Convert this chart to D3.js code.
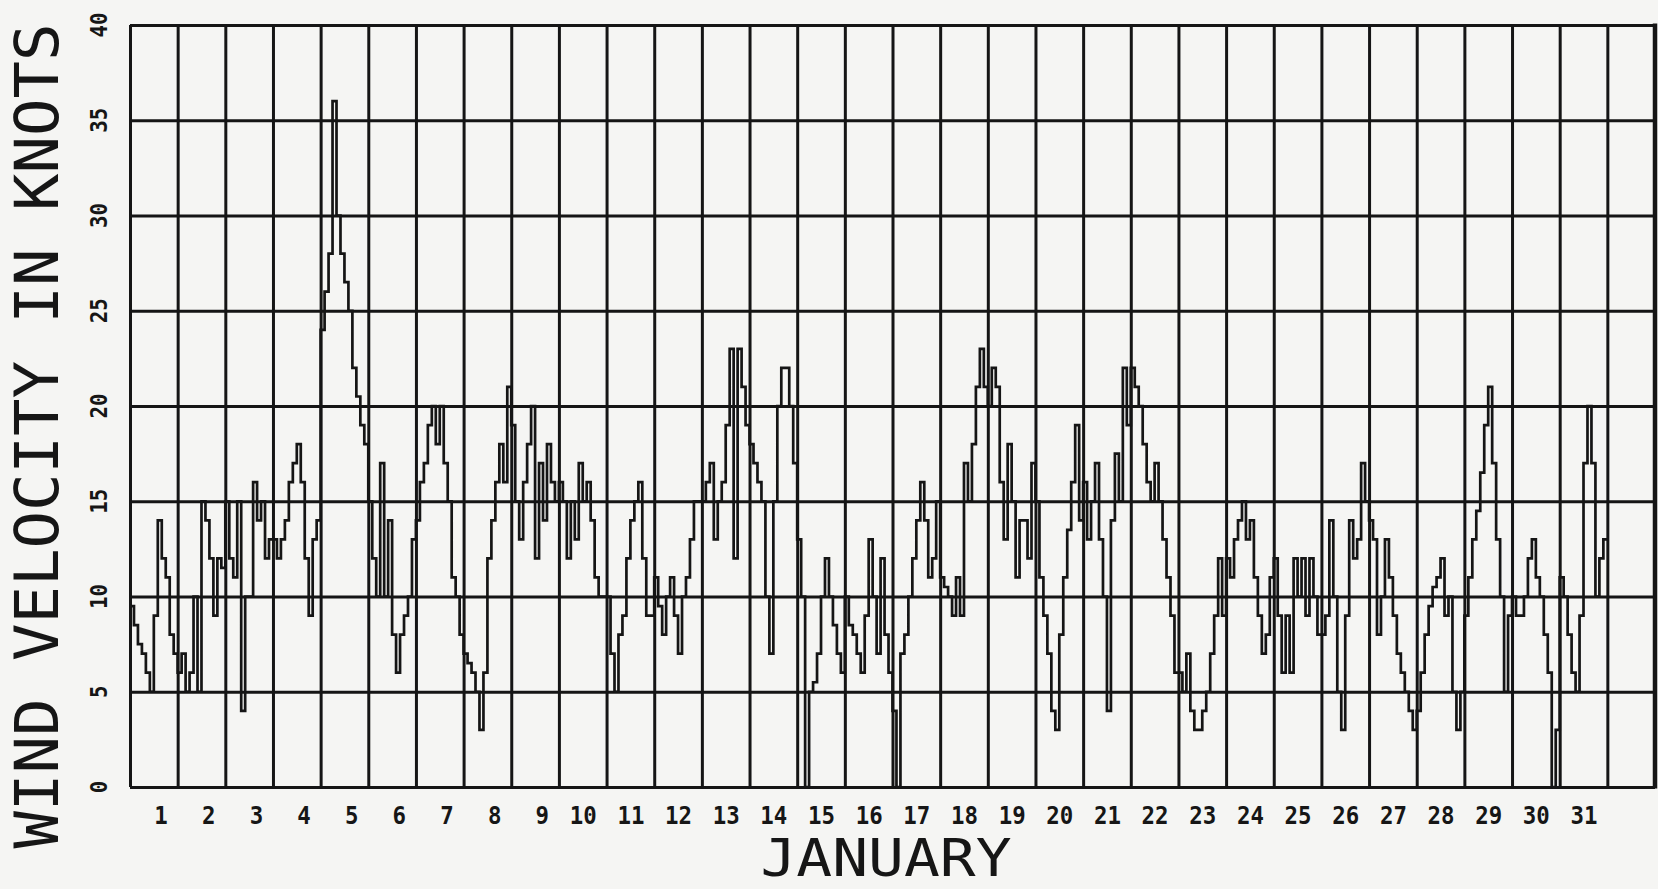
<!DOCTYPE html>
<html>
<head>
<meta charset="utf-8">
<script src="https://cdn.jsdelivr.net/npm/d3@7/dist/d3.min.js"></script>
<style>
    body { margin: 0; background: #f5f5f3; }
    svg { display: block; }
    text { font-family: "DejaVu Sans Mono", monospace; fill: #161616; }
</style>
</head>
<body>
<div id="chart"></div>
<script>
// Wind velocity in knots, every 2 hours (12 per day)
const week1 = [
    [9.5, 8.5, 7.5, 7, 6, 5, 9, 14, 12, 11, 8, 7],
    [6, 7, 5, 6, 10, 5, 15, 14, 12, 9, 12, 11.5],
    [15, 12, 11, 15, 4, 10, 10, 16, 14, 15, 12, 13],
    [13, 12, 13, 14, 16, 17, 18, 16, 12, 9, 13, 14],
    [24, 26, 28, 36, 30, 28, 26.5, 25, 22, 20.5, 19, 18],
    [15, 12, 10, 17, 10, 14, 8, 6, 8, 9, 10, 13],
    [14, 16, 17, 19, 20, 18, 20, 17, 15, 11, 10, 8]
];
const week2 = [
    [7, 6.5, 6, 5, 3, 6, 12, 14, 16, 18, 16, 21],
    [19, 15, 13, 16, 18, 20, 12, 17, 14, 18, 16, 15],
    [16, 15, 12, 15, 13, 17, 15, 16, 14, 11, 10, 10],
    [10, 7, 5, 8, 9, 12, 14, 15, 16, 12, 9, 9],
    [11, 9.5, 8, 10, 11, 9, 7, 10, 11, 13, 15, 15],
    [15, 16, 17, 13, 15, 16, 19, 23, 12, 23, 21, 19],
    [18, 17, 16, 15, 10, 7, 15, 20, 22, 22, 20, 17]
];
const week3 = [
    [13, 10, 0, 5, 5.5, 7, 10, 12, 10, 8.5, 7, 6],
    [10, 8.5, 8, 7, 6, 9, 13, 10, 7, 12, 8, 6],
    [4, 0, 7, 8, 10, 12, 14, 16, 14, 11, 12, 15],
    [11, 10.5, 10, 9, 11, 9, 17, 15, 18, 21, 23, 21],
    [20, 22, 21, 16, 13, 18, 15, 11, 14, 14, 12, 17],
    [15, 11, 9, 7, 4, 3, 8, 11, 13.5, 16, 19, 14],
    [16, 13, 15, 17, 13, 10, 4, 14, 17.5, 15, 22, 19]
];
const week4 = [
    [22, 21, 20, 18, 16, 15, 17, 15, 13, 11, 9, 6],
    [6, 5, 7, 4, 3, 3, 4, 5, 7, 9, 12, 9],
    [12, 11, 13, 14, 15, 13, 14, 11, 9, 7, 8, 11],
    [12, 9, 6, 9, 6, 12, 10, 12, 9, 12, 10, 8],
    [8, 9, 14, 10, 5, 3, 9, 14, 12, 13, 17, 15],
    [14, 13, 8, 10, 13, 11, 9, 7, 6, 5, 4, 3],
    [4, 6, 8, 9.5, 10.5, 11, 12, 9, 10, 5, 3, 5]
];
const week5 = [
    [9, 11, 13, 14.5, 16.5, 19, 21, 17, 13, 10, 5, 9],
    [10, 9, 9, 10, 12, 13, 11, 10, 8, 6, 0, 3],
    [11, 10, 8, 6, 5, 9, 17, 20, 17, 10, 12, 13]
];

const dayLabels = ["1", "2", "3", "4", "5", "6", "7", "8", "9", "10",
    "11", "12", "13", "14", "15", "16", "17", "18", "19", "20",
    "21", "22", "23", "24", "25", "26", "27", "28", "29", "30", "31"];
const knotTicks = [0, 5, 10, 15, 20, 25, 30, 35, 40];

const yTitle = "WIND VELOCITY IN KNOTS";
const xTitle = "JANUARY";

const W = 1658, H = 889;
const plot = { left: 130, right: 1655, top: 25, bottom: 787 };
const ink = "#151515";

const days = [...week1, ...week2, ...week3, ...week4, ...week5];
const perDay = days[0].length;

// flatten into (time in days, value) points for a step line
const series = [];
days.forEach((row, d) => {
    row.forEach((v, i) => series.push({ t: d + i / perDay, v }));
});
series.push({ t: days.length, v: series[series.length - 1].v });

const svg = d3.select("#chart").append("svg")
    .attr("width", W)
    .attr("height", H)
    .attr("viewBox", [0, 0, W, H]);

const x = d3.scaleLinear().domain([0, 32]).range([plot.left, plot.right]);
const y = d3.scaleLinear().domain([0, 40]).range([plot.bottom, plot.top]);

// vertical day grid
const xGrid = svg.append("g")
    .attr("transform", `translate(0, ${plot.bottom})`)
    .call(d3.axisBottom(x)
        .tickValues(d3.range(0, 33))
        .tickSize(-(plot.bottom - plot.top))
        .tickFormat(""));
xGrid.select(".domain").remove();
xGrid.selectAll("line").attr("stroke", ink).attr("stroke-width", 3);

// horizontal knot grid
const yGrid = svg.append("g")
    .attr("transform", `translate(${plot.left}, 0)`)
    .call(d3.axisLeft(y)
        .tickValues(knotTicks)
        .tickSize(-(plot.right - plot.left))
        .tickFormat(""));
yGrid.select(".domain").remove();
yGrid.selectAll("line").attr("stroke", ink).attr("stroke-width", 3);

// heavier right border
svg.append("line")
    .attr("x1", x(32)).attr("x2", x(32))
    .attr("y1", y(40) - 1.5).attr("y2", y(0) + 1.5)
    .attr("stroke", ink).attr("stroke-width", 4.5);

// wind trace
const lineMapper = d3.line()
    .x(d => x(d.t))
    .y(d => y(d.v))
    .curve(d3.curveStepAfter);

svg.append("path")
    .datum(series)
    .attr("fill", "none")
    .attr("stroke", ink)
    .attr("stroke-width", 2.7)
    .attr("stroke-linejoin", "miter")
    .attr("d", lineMapper);

// day labels, right aligned like a 2-wide field centred in the column
svg.append("g").selectAll("text")
    .data(dayLabels)
    .join("text")
    .attr("x", (d, i) => x(i + 0.5) + 14)
    .attr("y", 824)
    .attr("text-anchor", "end")
    .attr("font-size", 25)
    .attr("font-weight", "bold")
    .attr("textLength", d => d.length * 13.5)
    .attr("lengthAdjust", "spacingAndGlyphs")
    .text(d => d);

// knot labels, rotated
svg.append("g").selectAll("text")
    .data(knotTicks)
    .join("text")
    .attr("transform", d => `translate(107, ${y(d)}) rotate(-90)`)
    .attr("text-anchor", "middle")
    .attr("font-size", 23)
    .attr("font-weight", "bold")
    .attr("textLength", d => String(d).length * 12.5)
    .attr("lengthAdjust", "spacingAndGlyphs")
    .text(d => d);

// axis titles
svg.append("text")
    .attr("transform", "translate(58, 436) rotate(-90)")
    .attr("text-anchor", "middle")
    .attr("font-size", 61)
    .attr("textLength", 825)
    .attr("lengthAdjust", "spacingAndGlyphs")
    .text(yTitle);

svg.append("text")
    .attr("x", 886)
    .attr("y", 876)
    .attr("text-anchor", "middle")
    .attr("font-size", 52)
    .attr("textLength", 251)
    .attr("lengthAdjust", "spacingAndGlyphs")
    .text(xTitle);
</script>
</body>
</html>
